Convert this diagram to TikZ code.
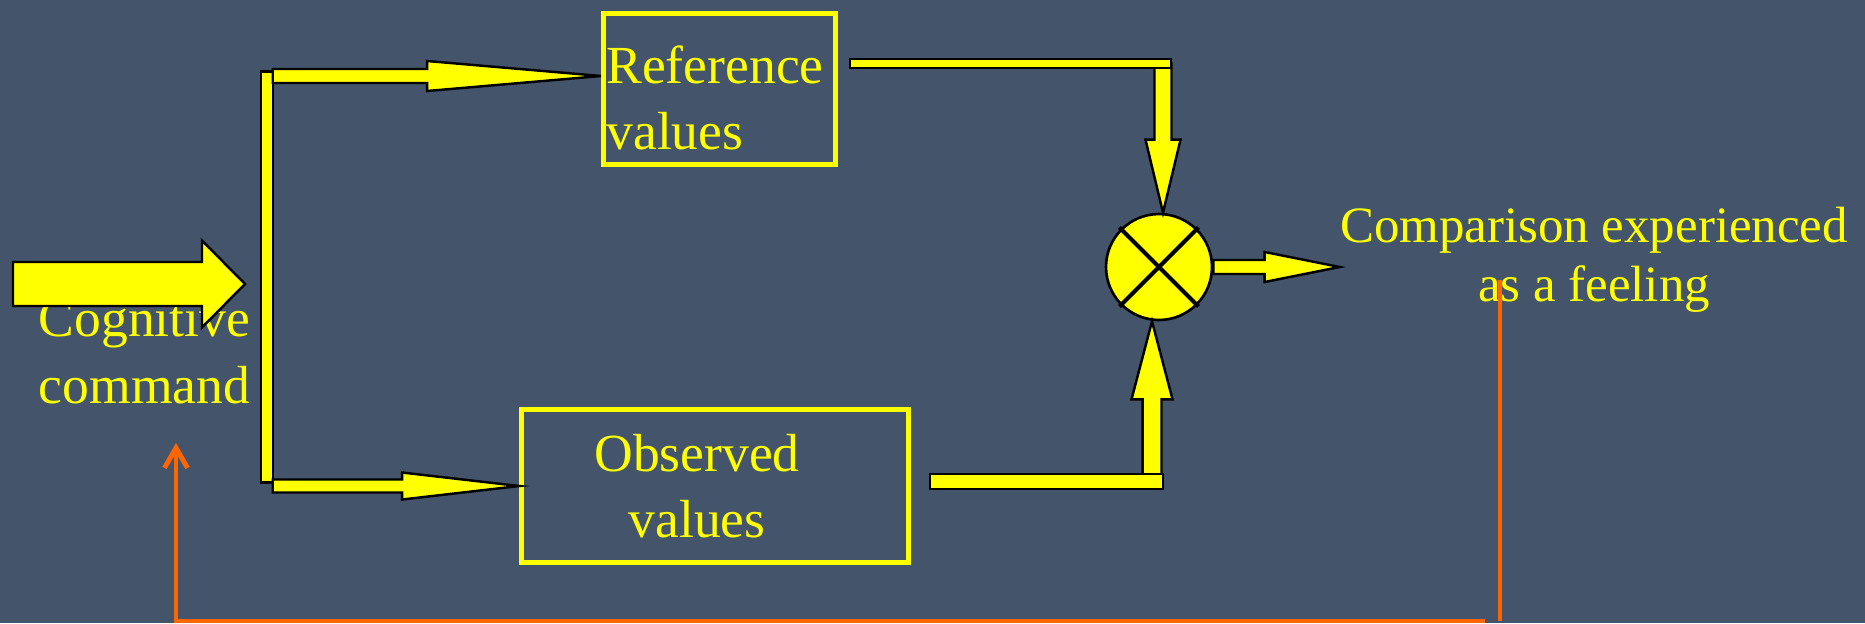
\documentclass[tikz,border=0pt]{standalone}
\usepackage{fontspec}
\setmainfont{Liberation Serif}
\usepackage{xcolor}
\usepackage{tikz}
\usetikzlibrary{arrows.meta, calc}
\definecolor{slatebg}{RGB}{68,84,106}
\definecolor{hiyellow}{RGB}{255,255,0}
\definecolor{fborange}{RGB}{255,102,0}
\tikzset{
  lbl/.style={text=hiyellow, inner sep=0pt, font=\fontsize{30.5}{37.6}\selectfont},
  valbox/.style={draw=hiyellow, line width=2.8pt, inner sep=0pt},
  blk/.style={fill=hiyellow, draw=black, line width=1.4pt, line join=miter},
  fb/.style={draw=fborange, line width=2.8pt}
}
% #1 from, #2 to, #3 half shaft, #4 half head, #5 head length
\newcommand{\blockarrow}[5]{%
  \path ($(#2)!#5!(#1)$) coordinate (hbase);
  \filldraw[blk] ($(#1)!#3!90:(#2)$) -- ($(hbase)!#3!90:(#2)$) -- ($(hbase)!#4!90:(#2)$) -- (#2)
    -- ($(hbase)!#4!-90:(#2)$) -- ($(hbase)!#3!-90:(#2)$) -- ($(#1)!#3!-90:(#2)$) -- cycle;}
\newcommand{\blockbar}[3]{%
  \filldraw[blk] ($(#1)!#3!90:(#2)$) -- ($(#2)!#3!-90:(#1)$) -- ($(#2)!#3!90:(#1)$) -- ($(#1)!#3!-90:(#2)$) -- cycle;}

\begin{document}
\begin{tikzpicture}[x=0.02cm, y=-0.02cm]
  \useasboundingbox (0,0) rectangle (1865,623);
  \fill[slatebg] (0,0) rectangle (1865,623);

  \node[lbl, align=center] (cmd) at (144.5,352.5) {Cognitive\\command};
  \node[valbox, minimum width=4.64cm, minimum height=3.02cm,
    label={[lbl, align=left, xshift=-0.09cm, yshift=-0.18cm]center:{Reference\\values}}] (ref) at (719.5,89) {};
  \node[valbox, minimum width=7.74cm, minimum height=3.06cm,
    label={[lbl, align=center, xshift=-0.36cm]center:{Observed\\values}}] (obs) at (715,486) {};
  \node[blk, minimum width=0.23cm, minimum height=8.23cm, inner sep=0pt, outer sep=0pt] (trunk) at (267,277) {};
  \node[blk, circle, line width=1.5pt, minimum size=2.12cm, inner sep=0pt] (comp) at (1159,267) {};
  \node[lbl, align=center, font=\fontsize{29}{33.6}\selectfont] (feel) at (1594,260) {Comparison experienced\\as a feeling};

  \coordinate (cogin) at (13,284);
  \coordinate (cogtip) at (245,284);
  \coordinate (topout) at (trunk.east |- 0,76);
  \coordinate (topin) at (ref.west |- topout);
  \coordinate (botout) at (trunk.east |- obs.west);
  \coordinate (refout) at (850,63.5);
  \coordinate (refcorner) at (1171,63.5);
  \coordinate (downtip) at ([xshift=0.08cm]comp.north);
  \coordinate (downstart) at (downtip |- refcorner);
  \coordinate (obsout) at (930,481.5);
  \coordinate (obscorner) at (1163,481.5);
  \coordinate (uptip) at ([xshift=-0.14cm]comp.south);
  \coordinate (upstart) at (uptip |- obscorner);
  \coordinate (feelin) at (comp.east -| feel.west);

  \blockarrow{cogin}{cogtip}{0.44cm}{0.87cm}{0.86cm}
  \blockarrow{topout}{topin}{0.14cm}{0.3cm}{3.48cm}
  \blockarrow{botout}{obs.west}{0.13cm}{0.27cm}{2.34cm}
  \blockarrow{downstart}{downtip}{0.17cm}{0.35cm}{1.46cm}
  \blockbar{refout}{refcorner}{0.09cm}
  \blockarrow{upstart}{uptip}{0.19cm}{0.41cm}{1.56cm}
  \blockbar{obsout}{obscorner}{0.15cm}
  \blockarrow{comp.east}{feelin}{0.14cm}{0.3cm}{1.5cm}
  \draw[line width=2.3pt] ([shift={(45:56)}]comp.center) -- ([shift={(225:56)}]comp.center);
  \draw[line width=2.3pt] ([shift={(135:56)}]comp.center) -- ([shift={(315:56)}]comp.center);

  \coordinate (fbtop) at (1500,280);
  \coordinate (fbbot) at (1500,621);
  \coordinate (fbleft) at (1485,621);
  \coordinate (fbtip) at (176,443);
  \draw[fb] (fbtop) -- (fbbot);
  \draw[fb, -{Straight Barb[length=0.4cm, width=0.46cm]}] (fbleft) -- (fbtip |- fbleft) -- (fbtip);
\end{tikzpicture}
\end{document}
